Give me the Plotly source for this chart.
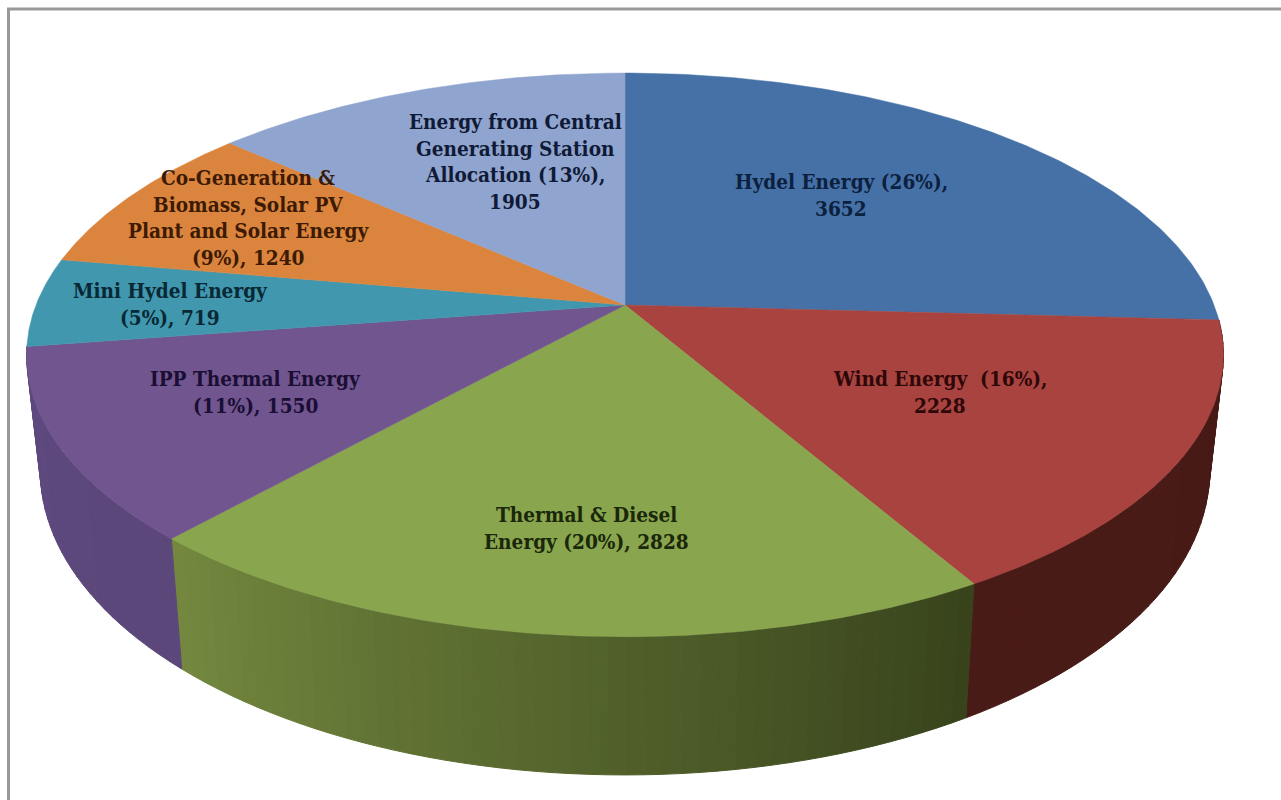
import numpy as np
import plotly.graph_objects as go

# ---- data ----
names = ["Hydel Energy", "Wind Energy", "Thermal & Diesel Energy", "IPP Thermal Energy",
         "Mini Hydel Energy", "Co-Generation & Biomass, Solar PV Plant and Solar Energy",
         "Energy from Central Generating Station Allocation"]
values = [3652, 2228, 2828, 1550, 719, 1240, 1905]
percents = [26, 16, 20, 11, 5, 9, 13]
label_lines = [
    ["Hydel Energy (26%),", "3652"],
    ["Wind Energy  (16%),", "2228"],
    ["Thermal & Diesel", "Energy (20%), 2828"],
    ["IPP Thermal Energy", "(11%), 1550"],
    ["Mini Hydel Energy", "(5%), 719"],
    ["Co-Generation &", "Biomass, Solar PV", "Plant and Solar Energy", "(9%), 1240"],
    ["Energy from Central", "Generating Station", "Allocation (13%),", "1905"],
]

# ---- style ----
top_colors = ["#4571a6", "#a8433f", "#89a54e", "#71558f", "#4097ae", "#db843d", "#8fa4ce"]
side_from = [None, "#4a1c18", "#74893f", "#5f4a80", None, None, None]
side_to = [None, "#461a16", "#38431c", "#5c477a", None, None, None]
text_colors = ["#0c1f3e", "#2e0808", "#1a270a", "#1a0e34", "#082834", "#3c1a04", "#101a36"]
label_x = [841, 940, 586, 255, 170, 248, 515]
label_y0 = [182, 379, 515, 379, 291, 178, 122]
line_gap = 26.6
font_family = "DejaVu Serif Condensed"
font_size = 20.6

# ---- projection of the disc (perspective view) ----
CX, CY, A, B, K = 625, 305, 589, 273, 0.177
BOT_S, BOT_CY, BOT_B = 0.977, 416.5, 295


def project(theta, top=True):
    u, v = np.sin(theta), -np.cos(theta)
    w = 1 - K * v
    if top:
        return CX + A * u / w, CY + B * v / w
    return CX + BOT_S * A * u / w, BOT_CY + BOT_B * v / w


def hex_rgb(h):
    return np.array([int(h[i:i + 2], 16) for i in (1, 3, 5)], float)


fig = go.Figure()
edges = np.radians(np.cumsum([0] + values) / sum(values) * 360)

# side wall, drawn first as narrow gradient strips
for i, (a0, a1) in enumerate(zip(edges[:-1], edges[1:])):
    if side_from[i] is None:
        continue
    n = max(6, int((a1 - a0) / np.radians(1.5)))
    steps = np.linspace(a0, a1, n + 1)
    c0, c1 = hex_rgb(side_from[i]), hex_rgb(side_to[i])
    for j in range(n):
        f = (j + 0.5) / n
        # theta runs clockwise: the "from" colour is the slice's left end for the front slices
        c = c1 + (c0 - c1) * f
        col = "rgb(%d,%d,%d)" % tuple(c)
        t = np.linspace(steps[j], steps[j + 1], 4)
        xt, yt = project(t, True)
        xb, yb = project(t[::-1], False)
        fig.add_trace(go.Scatter(x=np.r_[xt, xb, xt[0]], y=np.r_[yt, yb, yt[0]], mode="lines",
                                 fill="toself", fillcolor=col, line=dict(color=col, width=1),
                                 hoverinfo="skip", showlegend=False))

# top face wedges
for i, (a0, a1) in enumerate(zip(edges[:-1], edges[1:])):
    t = np.linspace(a0, a1, 120)
    x, y = project(t, True)
    fig.add_trace(go.Scatter(x=np.r_[CX, x, CX], y=np.r_[CY, y, CY], mode="lines", fill="toself",
                             fillcolor=top_colors[i], line=dict(color=top_colors[i], width=0.5),
                             name=names[i], text=f"{names[i]}: {values[i]} ({percents[i]}%)",
                             hoverinfo="text", showlegend=False))

annotations = []
for i, lines in enumerate(label_lines):
    for j, line in enumerate(lines):
        annotations.append(dict(x=label_x[i], y=label_y0[i] + j * line_gap, text=f"<b>{line}</b>",
                                showarrow=False, xanchor="center", yanchor="middle",
                                font=dict(family=font_family, size=font_size, color=text_colors[i])))

fig.update_layout(
    width=1281, height=800, margin=dict(l=0, r=0, t=0, b=0),
    paper_bgcolor="white", plot_bgcolor="white", showlegend=False,
    xaxis=dict(range=[0, 1281], visible=False, fixedrange=True),
    yaxis=dict(range=[800, 0], visible=False, fixedrange=True),
    annotations=annotations,
    shapes=[dict(type="rect", x0=8.5, y0=9, x1=1300, y1=830, line=dict(color="#999999", width=3),
                 layer="below")],
)
fig.write_html("out.html", post_script="document.body.style.margin='0';",
               config={"displayModeBar": False})
